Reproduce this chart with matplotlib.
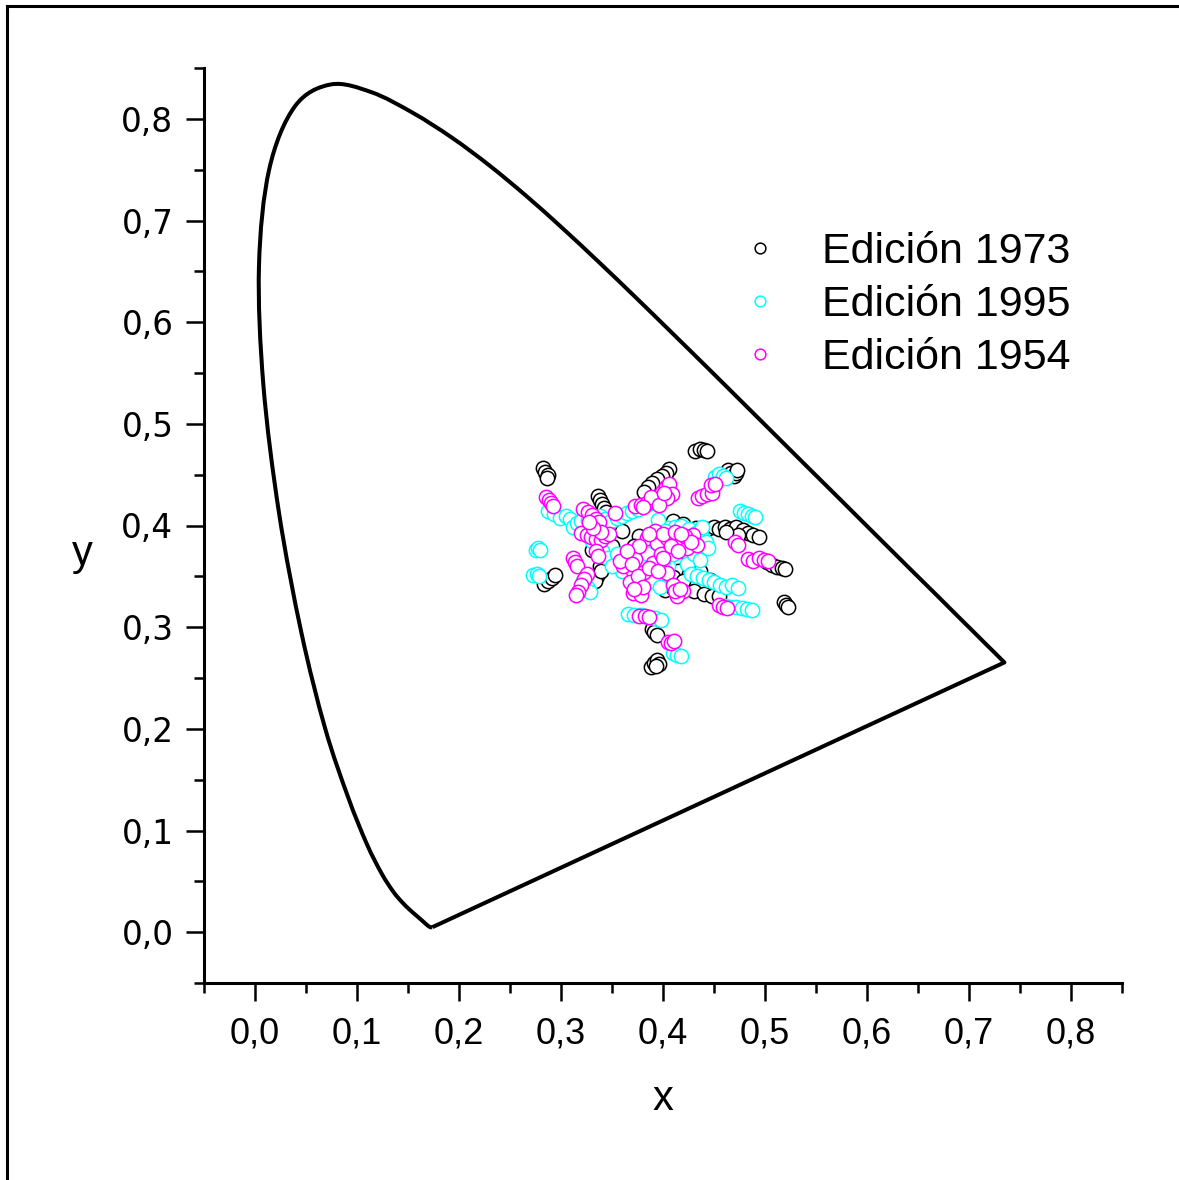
import matplotlib
matplotlib.use("Agg")
import matplotlib.pyplot as plt
from matplotlib.lines import Line2D
from matplotlib.path import Path
from matplotlib.patches import PathPatch
from matplotlib.ticker import MultipleLocator, FuncFormatter

plt.rcParams['font.family'] = ['Liberation Sans', 'DejaVu Sans']

# CIE 1931 spectral locus (380-700 nm, 5 nm)
locus_x = [0.1741, 0.1740, 0.1738, 0.1736, 0.1733, 0.1730, 0.1726, 0.1721, 0.1714, 0.1703,
           0.1689, 0.1669, 0.1644, 0.1611, 0.1566, 0.1510, 0.1440, 0.1355, 0.1241, 0.1096,
           0.0913, 0.0687, 0.0454, 0.0235, 0.0082, 0.0039, 0.0139, 0.0389, 0.0743, 0.1142,
           0.1547, 0.1929, 0.2296, 0.2658, 0.3016, 0.3373, 0.3731, 0.4087, 0.4441, 0.4788,
           0.5125, 0.5448, 0.5752, 0.6029, 0.6270, 0.6482, 0.6658, 0.6801, 0.6915, 0.7006,
           0.7079, 0.7140, 0.7190, 0.7230, 0.7260, 0.7283, 0.7300, 0.7311, 0.7320, 0.7327,
           0.7334, 0.7340, 0.7344, 0.7346, 0.7347]
locus_y = [0.0050, 0.0050, 0.0049, 0.0049, 0.0048, 0.0048, 0.0048, 0.0048, 0.0051, 0.0058,
           0.0069, 0.0086, 0.0109, 0.0138, 0.0177, 0.0227, 0.0297, 0.0399, 0.0578, 0.0868,
           0.1327, 0.2007, 0.2950, 0.4127, 0.5384, 0.6548, 0.7502, 0.8120, 0.8338, 0.8262,
           0.8059, 0.7816, 0.7543, 0.7243, 0.6923, 0.6589, 0.6245, 0.5896, 0.5547, 0.5202,
           0.4866, 0.4544, 0.4242, 0.3965, 0.3725, 0.3514, 0.3340, 0.3197, 0.3083, 0.2993,
           0.2920, 0.2859, 0.2809, 0.2770, 0.2740, 0.2717, 0.2700, 0.2689, 0.2680, 0.2673,
           0.2666, 0.2660, 0.2656, 0.2654, 0.2653]

# Edición 1973 (black)
x1973 = [0.282, 0.284, 0.287, 0.286,
         0.431, 0.436, 0.440, 0.443,
         0.464, 0.467, 0.470, 0.472, 0.473,
         0.406, 0.403, 0.399, 0.394, 0.389, 0.385, 0.381,
         0.336, 0.338, 0.340, 0.342, 0.344,
         0.410, 0.420, 0.432, 0.443, 0.450, 0.455, 0.461, 0.466, 0.472, 0.478, 0.483, 0.488, 0.494,
         0.502, 0.507, 0.512, 0.517, 0.520,
         0.519, 0.521, 0.523,
         0.283, 0.287, 0.291, 0.294,
         0.389, 0.391, 0.394,
         0.388, 0.391, 0.394, 0.396, 0.393,
         0.345, 0.342, 0.338, 0.335, 0.333,
         0.402, 0.410, 0.416, 0.430, 0.440, 0.448, 0.455,
         0.417, 0.420, 0.376, 0.372, 0.415,
         0.410, 0.425, 0.436, 0.360, 0.350, 0.330, 0.339, 0.396, 0.420, 0.446, 0.474, 0.462]
y1973 = [0.457, 0.453, 0.450, 0.447,
         0.473, 0.475, 0.474, 0.473,
         0.455, 0.452, 0.449, 0.452, 0.455,
         0.456, 0.452, 0.449, 0.446, 0.442, 0.438, 0.433,
         0.429, 0.425, 0.421, 0.417, 0.413,
         0.404, 0.401, 0.398, 0.397, 0.399, 0.397, 0.399, 0.397, 0.399, 0.396, 0.393, 0.391, 0.389,
         0.364, 0.361, 0.359, 0.358, 0.357,
         0.325, 0.322, 0.320,
         0.342, 0.345, 0.348, 0.351,
         0.298, 0.295, 0.292,
         0.261, 0.265, 0.268, 0.264, 0.262,
         0.372, 0.366, 0.360, 0.350, 0.345,
         0.337, 0.339, 0.340, 0.336, 0.333, 0.331, 0.331,
         0.361, 0.356, 0.390, 0.380, 0.355,
         0.349, 0.352, 0.355, 0.395, 0.380, 0.376, 0.355, 0.360, 0.345, 0.346, 0.391, 0.394]

# Edición 1995 (cyan)
x1995 = [0.275, 0.277, 0.279,
         0.273, 0.276, 0.278,
         0.287, 0.293, 0.299, 0.305, 0.309, 0.312, 0.316, 0.320, 0.326, 0.333, 0.338, 0.343,
         0.349, 0.355, 0.360, 0.365, 0.370, 0.375, 0.380, 0.385,
         0.451, 0.455, 0.459, 0.462,
         0.475, 0.479, 0.483, 0.487, 0.490,
         0.405, 0.412, 0.418, 0.425, 0.432, 0.438, 0.442, 0.444,
         0.424, 0.427, 0.433, 0.439, 0.445, 0.450, 0.456, 0.462, 0.468, 0.474,
         0.461, 0.466, 0.472, 0.477, 0.482, 0.487,
         0.366, 0.372, 0.378, 0.385, 0.392, 0.398,
         0.410, 0.414, 0.418,
         0.380, 0.385, 0.395, 0.405, 0.415, 0.420, 0.330, 0.340, 0.346, 0.325, 0.360,
         0.400, 0.410, 0.430, 0.436, 0.355, 0.350, 0.390, 0.397, 0.438, 0.395, 0.402, 0.322, 0.328]
y1995 = [0.376, 0.378, 0.376,
         0.351, 0.352, 0.350,
         0.414, 0.411, 0.407, 0.409, 0.406, 0.399, 0.402, 0.404, 0.405, 0.407, 0.409, 0.406,
         0.404, 0.407, 0.409, 0.412, 0.414, 0.416, 0.419, 0.421,
         0.448, 0.451, 0.449, 0.447,
         0.414, 0.412, 0.411, 0.409, 0.408,
         0.398, 0.399, 0.400, 0.397, 0.393, 0.389, 0.384, 0.378,
         0.362, 0.352, 0.350, 0.348, 0.346, 0.344, 0.341, 0.340, 0.341, 0.339,
         0.321, 0.320, 0.320, 0.319, 0.318, 0.317,
         0.313, 0.312, 0.312, 0.310, 0.309, 0.307,
         0.275, 0.273, 0.272,
         0.380, 0.372, 0.365, 0.360, 0.385, 0.378, 0.385, 0.375, 0.368, 0.340, 0.355,
         0.365, 0.372, 0.372, 0.366, 0.372, 0.360, 0.345, 0.340, 0.399, 0.405, 0.395, 0.345, 0.335]

# Edición 1954 (magenta)
x1954 = [0.285, 0.288, 0.290, 0.292,
         0.322, 0.326, 0.330, 0.334, 0.337,
         0.353,
         0.373, 0.378, 0.384, 0.390, 0.395, 0.399, 0.403, 0.406, 0.409, 0.404,
         0.434, 0.438, 0.443, 0.448, 0.447, 0.451,
         0.320, 0.325, 0.329, 0.334, 0.339, 0.343, 0.347,
         0.334, 0.336,
         0.312, 0.314, 0.316,
         0.325, 0.323, 0.320, 0.317, 0.315,
         0.368, 0.373, 0.371, 0.381, 0.368, 0.371, 0.378, 0.384, 0.394, 0.392, 0.404, 0.410,
         0.419, 0.424, 0.429, 0.433, 0.390, 0.404, 0.410, 0.420, 0.414, 0.361, 0.358, 0.398, 0.376,
         0.471, 0.474,
         0.483, 0.488, 0.494, 0.499, 0.503,
         0.455, 0.459, 0.463,
         0.376, 0.382, 0.386,
         0.405, 0.408, 0.411,
         0.365, 0.370, 0.375, 0.386, 0.395, 0.400, 0.408, 0.415, 0.422, 0.427, 0.380, 0.372,
         0.412, 0.417, 0.400, 0.386, 0.339, 0.331, 0.327, 0.388, 0.380, 0.396, 0.401, 0.412, 0.418]
y1954 = [0.428, 0.425, 0.422, 0.419,
         0.416, 0.413, 0.410, 0.406, 0.403,
         0.412,
         0.419, 0.420, 0.422, 0.425, 0.428, 0.433, 0.438, 0.441, 0.431, 0.427,
         0.427, 0.429, 0.431, 0.432, 0.440, 0.441,
         0.393, 0.391, 0.389, 0.387, 0.386, 0.390, 0.392,
         0.375, 0.370,
         0.368, 0.364, 0.360,
         0.352, 0.347, 0.341, 0.335, 0.332,
         0.372, 0.367, 0.355, 0.354, 0.344, 0.334, 0.332, 0.388, 0.383, 0.395, 0.388, 0.390,
         0.386, 0.378, 0.391, 0.381, 0.363, 0.353, 0.341, 0.336, 0.331, 0.360, 0.365, 0.372, 0.380,
         0.384, 0.381,
         0.367, 0.365, 0.368, 0.366, 0.365,
         0.322, 0.320, 0.319,
         0.311, 0.311, 0.310,
         0.285, 0.284, 0.286,
         0.375, 0.362, 0.350, 0.358, 0.355, 0.368, 0.380, 0.375, 0.390, 0.384, 0.340, 0.338,
         0.336, 0.338, 0.392, 0.392, 0.394, 0.398, 0.403, 0.428, 0.418, 0.420, 0.432, 0.394, 0.392]

labels = ['Edición 1973', 'Edición 1995', 'Edición 1954']
colors = ['black', '#00FFFF', '#FF00FF']

W, H = 1179, 1180
fig = plt.figure(figsize=(W / 100, H / 100), dpi=100)
ax = fig.add_axes([204 / W, 1 - 983 / H, (1122 - 204) / W, (983 - 68) / H])

# spectral locus drawn as a smooth (Catmull-Rom / Bezier) line, closed by the straight purple line
pts = list(zip(locus_x, locus_y))
n = len(pts)
verts = [pts[0]]
codes = [Path.MOVETO]
for i in range(n - 1):
    p0 = pts[i - 1] if i > 0 else pts[i]
    p1 = pts[i]
    p2 = pts[i + 1]
    p3 = pts[i + 2] if i + 2 < n else pts[i + 1]
    c1 = (p1[0] + (p2[0] - p0[0]) / 6, p1[1] + (p2[1] - p0[1]) / 6)
    c2 = (p2[0] - (p3[0] - p1[0]) / 6, p2[1] - (p3[1] - p1[1]) / 6)
    verts += [c1, c2, p2]
    codes += [Path.CURVE4] * 3
verts.append(pts[0])
codes.append(Path.LINETO)
ax.add_patch(PathPatch(Path(verts, codes), fill=False, edgecolor='black', lw=2.9,
                       joinstyle='round', zorder=1))

for xs, ys, c, lab in zip([x1973, x1995, x1954], [y1973, y1995, y1954], colors, labels):
    ax.plot(xs, ys, linestyle='none', marker='o', markersize=10.3, markerfacecolor='white',
            markeredgecolor=c, markeredgewidth=1.1, label=lab, zorder=3)

ax.set_xlim(-0.05, 0.85)
ax.set_ylim(-0.05, 0.85)
for s in ['top', 'right']:
    ax.spines[s].set_visible(False)
for s in ['left', 'bottom']:
    ax.spines[s].set_linewidth(2.2)

ax.xaxis.set_major_locator(MultipleLocator(0.1))
ax.xaxis.set_minor_locator(MultipleLocator(0.05))
ax.yaxis.set_major_locator(MultipleLocator(0.1))
ax.yaxis.set_minor_locator(MultipleLocator(0.05))
fmt = FuncFormatter(lambda v, p: ('%.1f' % v).replace('.', ',').replace('-0,0', '0,0'))
ax.xaxis.set_major_formatter(fmt)
ax.yaxis.set_major_formatter(fmt)
ax.tick_params(which='major', direction='out', length=13, width=1.8, labelsize=26)
ax.tick_params(which='minor', direction='out', length=7, width=1.8)
ax.tick_params(axis='x', which='major', pad=11)
ax.tick_params(axis='y', which='major', pad=9)
ax.set_xticks([t / 10 for t in range(0, 9)])
ax.set_yticks([t / 10 for t in range(0, 9)])
for lbl in ax.get_yticklabels():
    lbl.set_family(['DejaVu Sans'])
    lbl.set_fontsize(23.5)

ax.set_xlabel('x', fontsize=30, labelpad=20)
ax.set_ylabel('y', fontsize=30, rotation=0)
ax.yaxis.set_label_coords(-0.133, 0.447)

leg = ax.legend(loc='center left', bbox_to_anchor=(738.5 / W, 1 - 305 / H),
                bbox_transform=fig.transFigure, frameon=False, fontsize=31,
                handlelength=1.0, handletextpad=0.94, labelspacing=0.3,
                borderpad=0, borderaxespad=0, markerscale=0.75)

fig.add_artist(Line2D([7 / W, 7 / W], [0, 1 - 6 / H], color='black', lw=2.2,
                      transform=fig.transFigure))
fig.add_artist(Line2D([7 / W, 1], [1 - 6 / H, 1 - 6 / H], color='black', lw=2.2,
                      transform=fig.transFigure))

fig.savefig('out.png', dpi=100)
